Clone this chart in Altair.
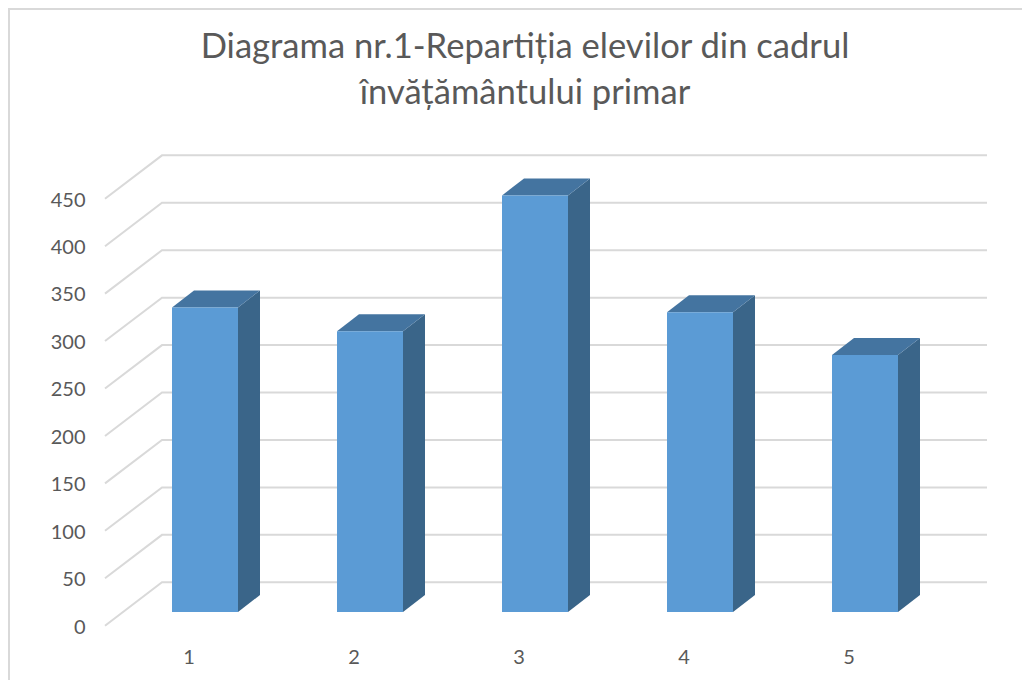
import altair as alt
import pandas as pd

categories = [1, 2, 3, 4, 5]
values = [321, 296, 439, 316, 271]
grid_values = [0, 50, 100, 150, 200, 250, 300, 350, 400, 450]
title_lines = ["Diagrama nr.1-Repartiția elevilor din cadrul", "învățământului primar"]

# page-pixel layout of the plot area
L, R, T, B = 105, 987, 140, 640
W, H = R - L, B - T
PX_X = 165.0          # pixels per category
PX_Y = 0.9488         # pixels per value unit
C1 = 205              # pixel of category 1
Y0 = 612              # pixel of value 0 in the bar plane

ux = lambda px: 1 + (px - C1) / PX_X
uy = lambda px: (Y0 - px) / PX_Y

half = 33 / PX_X
dx = 22 / PX_X
dy = 17 / PX_Y
x_scale = alt.Scale(domain=[ux(L), ux(R)], nice=False, zero=False)
y_scale = alt.Scale(domain=[uy(B), uy(T)], nice=False, zero=False)

front, top, side = [], [], []
for c, v in zip(categories, values):
    l, r = c - half, c + half
    front.append({"x": l, "x2": r, "y": 0, "y2": v})
    top += [
        {"bar": c, "x": l, "y": v, "hi": v},
        {"bar": c, "x": l + dx, "y": v, "hi": v + dy},
        {"bar": c, "x": r, "y": v, "hi": v + dy},
        {"bar": c, "x": r + dx, "y": v + dy, "hi": v + dy},
    ]
    side += [
        {"bar": c, "x": r, "y": 0, "hi": v},
        {"bar": c, "x": r + dx, "y": dy, "hi": v + dy},
    ]

back_shift = 29.7 / PX_Y
front_shift = -13.7 / PX_Y
grid = []
for v in grid_values:
    grid += [
        {"g": v, "x": ux(L), "y": v + front_shift},
        {"g": v, "x": ux(162), "y": v + back_shift},
        {"g": v, "x": ux(R), "y": v + back_shift},
    ]

X = alt.X("x:Q", scale=x_scale, axis=alt.Axis(
    values=categories, format="d", title=None, domain=False, ticks=False, grid=False,
    labelOffset=-16.5, labelPadding=7, labelFont="Lato", labelFontSize=20,
    labelColor="#595959", labelFlush=False, labelOverlap=False))
Y = alt.Y("y:Q", scale=y_scale, axis=alt.Axis(
    values=grid_values, format="d", title=None, domain=False, ticks=False, grid=False,
    labelOffset=15, labelPadding=20, labelFont="Lato", labelFontSize=20,
    labelColor="#595959", labelFlush=False, labelOverlap=False))

grid_layer = alt.Chart(pd.DataFrame(grid)).mark_line(color="#d9d9d9", strokeWidth=2, clip=False).encode(
    x=X, y=Y, detail="g:N")
side_layer = alt.Chart(pd.DataFrame(side)).mark_area(color="#3a6589").encode(
    x=X, y=Y, y2="hi:Q", detail="bar:N")
top_layer = alt.Chart(pd.DataFrame(top)).mark_area(color="#4474a0").encode(
    x=X, y=Y, y2="hi:Q", detail="bar:N")
front_layer = alt.Chart(pd.DataFrame(front)).mark_bar(color="#5b9bd5").encode(
    x=X, x2="x2:Q", y=Y, y2="y2:Q")

dummy = pd.DataFrame({"a": [0]})
frame_left = alt.Chart(dummy).mark_rule(color="#d9d9d9", strokeWidth=2).encode(
    x=alt.value(8 + 1 - L), y=alt.value(8 - T), y2=alt.value(680 - T))
frame_top = alt.Chart(dummy).mark_rule(color="#d9d9d9", strokeWidth=2).encode(
    y=alt.value(8 + 1 - T), x=alt.value(8 - L), x2=alt.value(1022 - L))

chart = alt.layer(frame_left, frame_top, grid_layer, side_layer, top_layer, front_layer).resolve_scale(
    x="shared", y="shared"
).properties(
    width=W, height=H,
    padding={"left": L - 8, "top": T - 8, "right": 1022 - R, "bottom": 680 - B},
    autosize=alt.AutoSizeParams(type="none"),
    title=alt.TitleParams(
        text=title_lines, font="Lato", fontSize=34.6, fontWeight="normal", color="#595959",
        anchor="middle", dx=-21, lineHeight=46, offset=-105),
).configure_view(stroke=None)

chart.save("out.html", embed_options={"renderer": "svg", "actions": False})
